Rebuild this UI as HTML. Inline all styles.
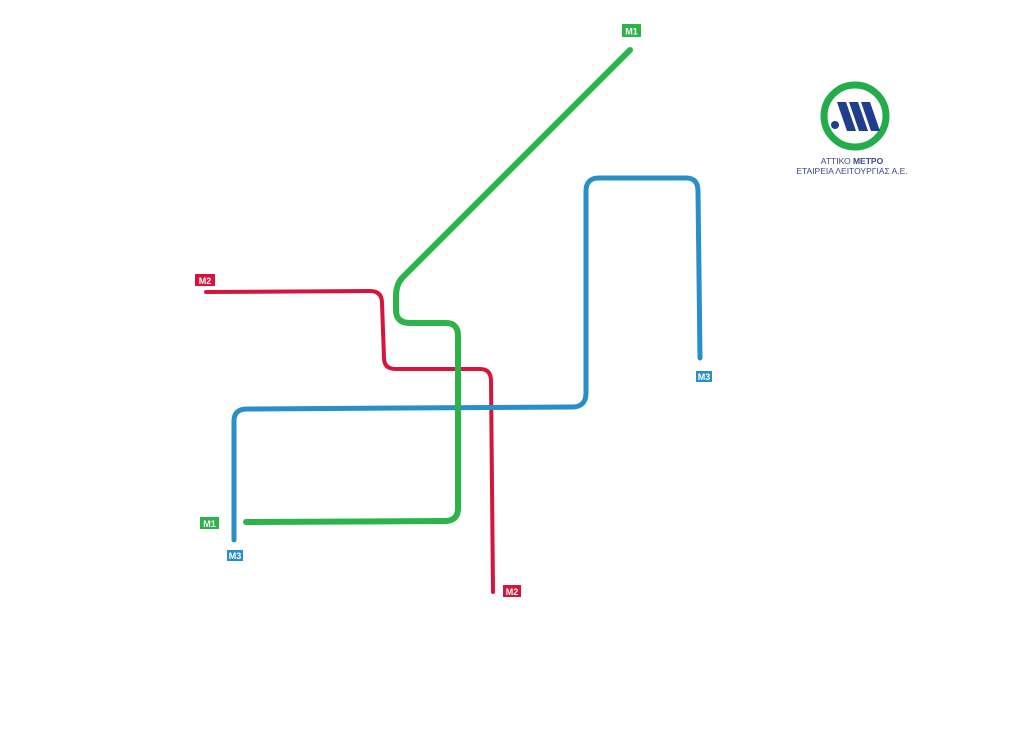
<!DOCTYPE html>
<html><head><meta charset="utf-8"><style>
html,body{margin:0;padding:0;background:#fff;}
svg{display:block}
.lbl{font-family:"Liberation Sans",sans-serif;font-weight:bold;}
.logo{font-family:"Liberation Sans",sans-serif;font-weight:normal;}
</style></head><body>
<svg width="1024" height="732" viewBox="0 0 1024 732" xmlns="http://www.w3.org/2000/svg">
<g fill="none" stroke-linecap="round" stroke-linejoin="round">
<path d="M206,292 L370,291 Q382,291 382,303 L384,358 Q384,369 396,369 L480,369 Q491,369 491,381 L493,592" stroke="#d7143c" stroke-width="4"/>
<path d="M234,540 L234,421 Q234,409 247,409 L572,407 Q586,407 586,393 L586,191 Q586,178 599,178 L686,178 Q698,178 698,191 L700,358" stroke="#2a8ec9" stroke-width="5"/>
<path d="M630,50 L402,278 Q396,285 396,296 L396,310 Q396,323 410,323 L446,323 Q458,323 458,336 L458,508 Q458,521 445,521 L246,522" stroke="#2cb34a" stroke-width="6"/>
</g>
<g class="lbl" font-size="9" fill="#fff" text-anchor="middle">
<rect x="622" y="24" width="19" height="13" fill="#2cb34a"/><text x="631.5" y="34.5">M1</text>
<rect x="195" y="274" width="20" height="12" fill="#d7143c"/><text x="205" y="284">M2</text>
<rect x="503" y="585" width="18" height="12" fill="#d7143c"/><text x="512" y="595">M2</text>
<rect x="696" y="371" width="16" height="11" fill="#2a8ec9"/><text x="704" y="380">M3</text>
<rect x="200" y="517" width="19" height="12" fill="#2cb34a"/><text x="209.5" y="527">M1</text>
<rect x="227" y="550" width="16" height="11" fill="#2a8ec9"/><text x="235" y="559">M3</text>
</g>
<circle cx="855" cy="116" r="31" fill="none" stroke="#22ad4a" stroke-width="7"/>
<g fill="#1f3e8c">
<polygon points="837,102 846,102 856,131 847,131"/>
<polygon points="849,102 858,102 868,131 859,131"/>
<polygon points="861,102 870,102 880,131 871,131"/>
<circle cx="835" cy="125" r="4"/>
</g>
<text class="logo" x="852" y="164" font-size="8.5" fill="#3a4a8a" text-anchor="middle">ΑΤΤΙΚΟ <tspan font-weight="bold">ΜΕΤΡΟ</tspan></text>
<text class="logo" x="852" y="174" font-size="8.5" fill="#3a4a8a" text-anchor="middle">ΕΤΑΙΡΕΙΑ ΛΕΙΤΟΥΡΓΙΑΣ Α.Ε.</text>
</svg>
</body></html>
